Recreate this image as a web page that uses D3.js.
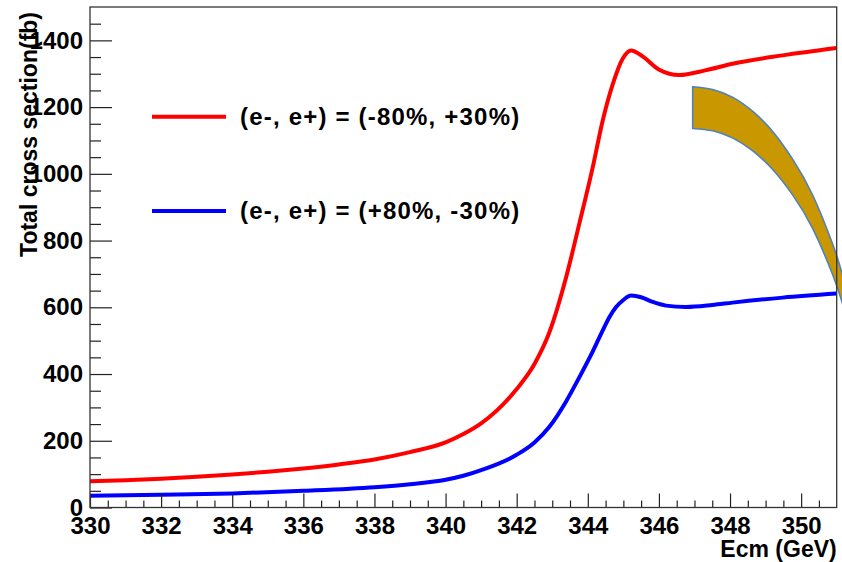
<html>
<head>
  <title>Total cross section vs Ecm</title>
  <script src="https://cdn.jsdelivr.net/npm/d3@7"></script>
  <style>
    body { margin: 0; background: #fff; }
    text { font-family: "Liberation Sans", Arial, Helvetica, sans-serif; font-weight: bold; fill: #000; }
  </style>
</head>
<body>
  <div id="chart"></div>
  <script>
    // values (Ecm in GeV, cross section in fb)
    const ecmRed = [330, 331, 332, 333, 334, 335, 336, 337, 338, 339, 340, 340.5, 341, 342, 342.5, 342.92, 343.39, 343.76, 344.14, 344.42, 344.7, 344.98, 345.22, 345.54, 346.01, 346.57, 347.3, 348.07, 349.48, 351];
    const xsecRed = [79, 82, 86, 92, 99, 107, 117, 129, 144, 166, 195, 220, 252, 355, 430, 525, 690, 850, 1020, 1160, 1268, 1345, 1370, 1352, 1312, 1296, 1310, 1330, 1355, 1377];

    const ecmBlue = [330, 332, 334, 336, 338, 339, 340, 340.5, 341, 342, 342.5, 342.92, 343.39, 343.76, 344.14, 344.42, 344.61, 344.79, 345.0, 345.22, 345.5, 345.8, 346.2, 346.76, 347.5, 348.07, 349.48, 351];
    const xsecBlue = [35, 38, 42, 50, 61, 70, 83, 95, 112, 158, 195, 242, 318, 390, 468, 531, 571, 600, 622, 635, 630, 617, 605, 601, 607, 614, 629, 641];

    const legendLabels = ["(e-, e+) = (-80%, +30%)", "(e-, e+) = (+80%, -30%)"];
    const seriesColors = ["#ff0000", "#0000ff"];

    // the gold band drawn over the plot (edges read in data units)
    const bandX = [346.95, 347.51, 348.08, 348.64, 349.20, 349.76, 350.33, 350.89, 351.17, 351.45];
    const bandOuterY = [1261, 1253, 1229, 1187, 1127, 1044, 935, 788, 694, 578];
    const bandInnerY = [1136, 1129, 1107, 1069, 1013, 937, 835, 697, 609, 498];

    const xMajor = d3.range(330, 351, 2);
    const yMajor = d3.range(0, 1401, 200);

    const W = 842, H = 562;
    const padL = 90, padR = 836.7, padT = 7, padB = 507.5;
    const font = "'Liberation Sans', Arial, Helvetica, sans-serif";

    const svg = d3.select("#chart").append("svg")
      .attr("width", W).attr("height", H);

    const x = d3.scaleLinear().domain([330, 351]).range([padL, padR]);
    const y = d3.scaleLinear().domain([0, 1500]).range([padB, padT]);

    // band
    const edge = d3.line().x(d => x(d[0])).y(d => y(d[1])).curve(d3.curveNatural);
    const outerPath = edge(d3.zip(bandX, bandOuterY));
    const innerPath = edge(d3.zip(bandX, bandInnerY).reverse());
    svg.append("path")
      .attr("d", outerPath + "L" + innerPath.slice(1) + "Z")
      .attr("fill", "#c99700")
      .attr("stroke", "#4f81bd")
      .attr("stroke-width", 1.6);

    // curves
    const curve = d3.line().x(d => x(d[0])).y(d => y(d[1])).curve(d3.curveMonotoneX);
    [[ecmRed, xsecRed], [ecmBlue, xsecBlue]].forEach((s, i) => {
      svg.append("path")
        .attr("d", curve(d3.zip(s[0], s[1])))
        .attr("fill", "none")
        .attr("stroke", seriesColors[i])
        .attr("stroke-width", 4);
    });

    // x axis
    const axes = [];
    axes.push(svg.append("g").attr("transform", `translate(0,${padB})`)
      .call(d3.axisBottom(x).tickValues(xMajor).tickSize(-14).tickPadding(9).tickFormat(d3.format("d"))));
    svg.append("g").attr("transform", `translate(0,${padB})`)
      .call(d3.axisBottom(x).tickValues(d3.range(330.5, 351, 0.5).filter(v => (v - 330) % 2 !== 0)).tickSize(-7).tickFormat(""));

    // y axis
    axes.push(svg.append("g").attr("transform", `translate(${padL},0)`)
      .call(d3.axisLeft(y).tickValues(yMajor).tickSize(-22).tickPadding(7).tickFormat(d3.format("d"))));
    svg.append("g").attr("transform", `translate(${padL},0)`)
      .call(d3.axisLeft(y).tickValues(d3.range(50, 1500, 50).filter(v => v % 200 !== 0)).tickSize(-11).tickFormat(""));

    axes.forEach(g => g.attr("font-size", 24).attr("font-family", font).attr("font-weight", "bold"));
    svg.selectAll(".domain").remove();
    svg.selectAll(".tick line").attr("stroke", "#222").attr("stroke-width", 1.2);
    svg.selectAll(".tick text")
      .attr("font-size", 24)
      .style("font-size", "24px")
      .attr("fill", "#000");

    // frame
    svg.append("rect")
      .attr("x", padL).attr("y", padT)
      .attr("width", padR - padL).attr("height", padB - padT)
      .attr("fill", "none").attr("stroke", "#333").attr("stroke-width", 1.3);

    // titles
    svg.append("text")
      .attr("text-anchor", "end")
      .attr("x", padR).attr("y", 557)
      .style("font-size", "23px")
      .text("Ecm (GeV)");

    svg.append("text")
      .attr("text-anchor", "end")
      .attr("transform", "translate(37,12) rotate(-90)")
      .style("font-size", "23px")
      .text("Total cross section(fb)");

    // legend
    const legY = [116.7, 211];
    legendLabels.forEach((lab, i) => {
      svg.append("line")
        .attr("x1", 152).attr("x2", 226)
        .attr("y1", legY[i]).attr("y2", legY[i])
        .attr("stroke", seriesColors[i]).attr("stroke-width", 4);
      svg.append("text")
        .attr("x", 240).attr("y", legY[i])
        .attr("dy", "0.35em")
        .style("font-size", "24px")
        .style("letter-spacing", "1.2px")
        .text(lab);
    });
  </script>
</body>
</html>
